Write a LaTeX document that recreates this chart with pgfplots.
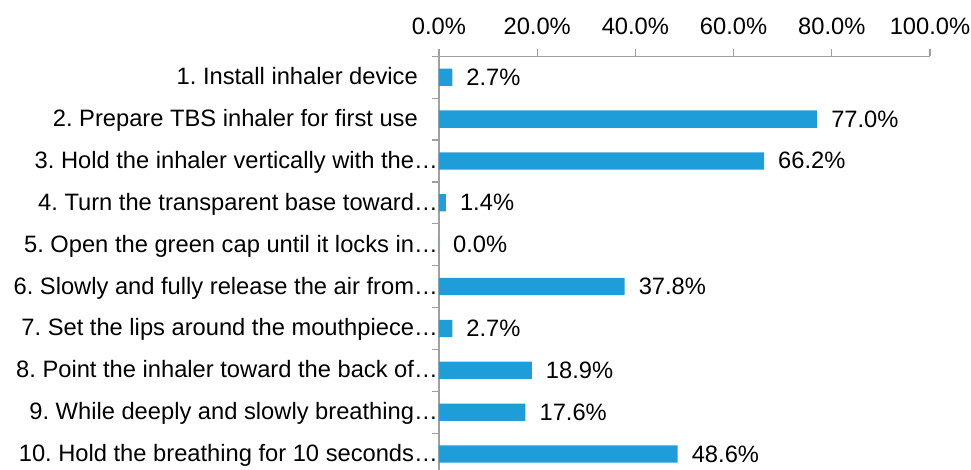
\documentclass[border=0pt]{standalone}
\usepackage{pgfplots}
\pgfplotsset{compat=1.18}
\usepackage{fontspec}
\setmainfont{Liberation Sans}
\frenchspacing
\definecolor{barblue}{RGB}{31,157,217}
\definecolor{axgray}{RGB}{160,160,160}
\begin{document}
\frenchspacing
\begin{tikzpicture}
\begin{axis}[
  name=ax,
  scale only axis,
  width=491bp, height=418.7bp,
  xbar, bar width=17.3bp,
  xmin=0, xmax=100,
  ymin=0.5, ymax=10.5,
  y dir=reverse,
  axis x line*=top,
  axis y line*=left,
  axis line style={-, draw=axgray, line width=1.2bp},
  tick style={draw=axgray, line width=1.2bp},
  tick align=outside,
  major tick length=7bp,
  minor tick length=7bp,
  xtick={0,20,40,60,80,100},
  xticklabels={0.0\%,20.0\%,40.0\%,60.0\%,80.0\%,100.0\%},
  ytick={1,...,10},
  ytick style={draw=none},
  minor ytick={0.5,1.5,...,10.5},
  minor y tick style={draw=axgray, line width=1.2bp},
  yticklabels={
    {1. Install inhaler device\kern20bp},
    {2. Prepare TBS inhaler for first use\kern20bp},
    {3. Hold the inhaler vertically with the…},
    {4. Turn the transparent base toward…},
    {5. Open the green cap until it locks in…},
    {6. Slowly and fully release the air from…},
    {7. Set the lips around the mouthpiece…},
    {8. Point the inhaler toward the back of…},
    {9. While deeply and slowly breathing…},
    {10. Hold the breathing for 10 seconds…}},
  ticklabel style={font=\fontsize{23.7bp}{28bp}\selectfont, text=black},
  xticklabel style={anchor=base, inner sep=0pt, yshift=14.6bp},
  yticklabel style={anchor=base east, inner sep=0pt, yshift=-7.5bp, xshift=6bp},
  /pgf/number format/assume math mode=true,
  nodes near coords={\pgfmathprintnumber[fixed,fixed zerofill,precision=1,assume math mode=true]{\pgfplotspointmeta}\%},
  nodes near coords style={anchor=base west, inner sep=0pt, xshift=14bp, yshift=-8bp, font=\fontsize{23.7bp}{28bp}\selectfont, text=black},
  point meta=explicit,
  clip=false,
]
\addplot[fill=barblue, draw=none] table[x=v, y=c, meta=v] {
c v
1 2.7
2 77.0
3 66.2
4 1.4
5 0.0
6 37.8
7 2.7
8 18.9
9 17.6
10 48.6
};
\end{axis}
\pgfresetboundingbox
\path[use as bounding box] ([xshift=-439bp,yshift=56.3bp]ax.north west) rectangle ++(971bp,-470bp);
\end{tikzpicture}
\end{document}
